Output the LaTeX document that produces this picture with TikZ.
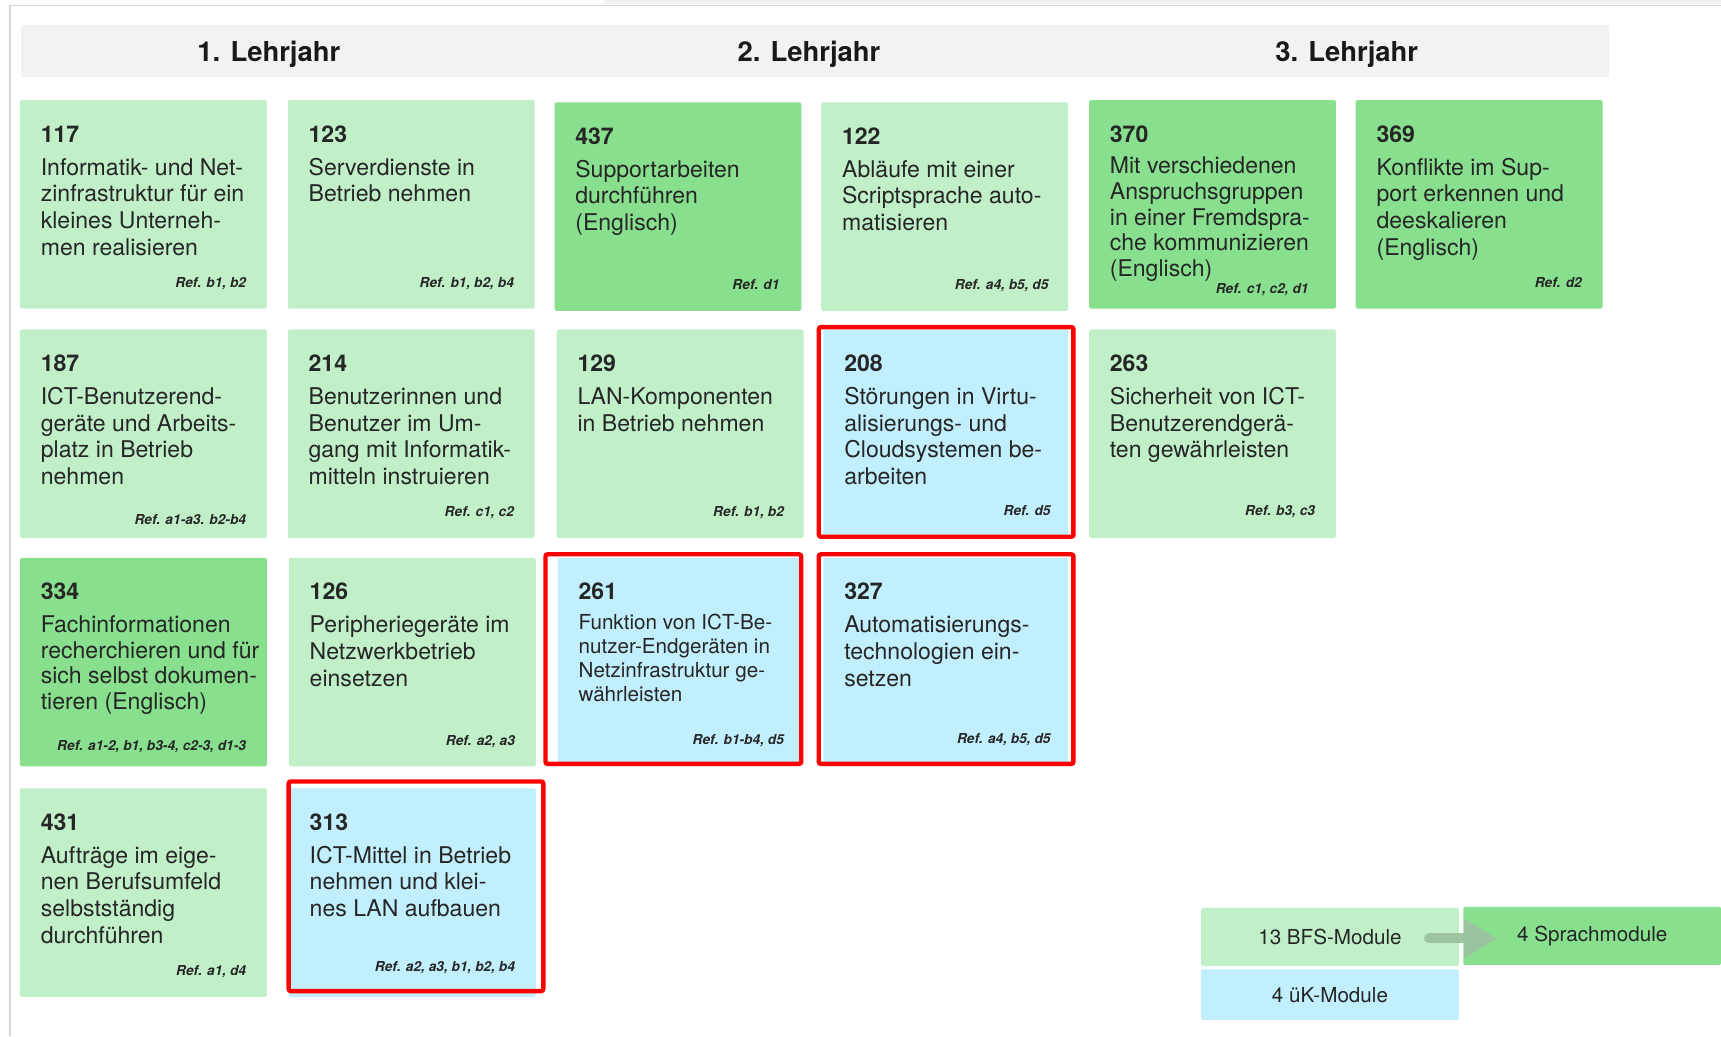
\documentclass[tikz,border=0pt]{standalone}
\usepackage{fontspec}
\setmainfont{TeX Gyre Heros}
\usetikzlibrary{calc,arrows.meta}
\definecolor{lgreen}{HTML}{C1F0C8}
\definecolor{dgreen}{HTML}{88E08F}
\definecolor{lblue}{HTML}{C1EFFD}
\definecolor{hdrgrey}{HTML}{F2F2F2}
\definecolor{txt}{HTML}{262626}
\definecolor{ukred}{HTML}{FF0000}
\definecolor{arrowc}{HTML}{9BC29F}
\definecolor{edgegrey}{HTML}{D6D6D6}
\tikzset{
  modbox/.style={anchor=north west, inner sep=0pt, minimum width=225pt, minimum height=190pt, rounded corners=2pt},
  lg/.style={fill=lgreen}, dg/.style={fill=dgreen}, bl/.style={fill=lblue},
  numtxt/.style={anchor=base west, inner sep=0pt, font=\fontsize{21}{24}\selectfont\bfseries, text=txt},
  bodytxt/.style={anchor=base west, inner sep=0pt, font=\fontsize{21}{24.3}\selectfont, text=txt},
  reftxt/.style={anchor=base east, inner sep=0pt, font=\fontsize{12.5}{14}\selectfont\bfseries\itshape, text=txt},
  ukframe/.style={draw=ukred, line width=4pt, rounded corners=2pt},
  hdrtxt/.style={anchor=base, inner sep=0pt, font=\fontsize{25}{28}\selectfont\bfseries, text=black!90},
  legbox/.style={anchor=north west, inner sep=0pt, rounded corners=2pt, font=\fontsize{18.8}{22}\selectfont, text=txt},
}
\newcommand{\modul}[9]{%
  \node[modbox,#4] (#1) at (#2,#3) {};
  \node[numtxt] (#1n) at ($(#1.north west)+(19,38.5)$) {#5};
  \node[bodytxt,#9] (#1b) at ($(#1.north west)+(19,68.5)$) {\parbox[t]{222pt}{\raggedright #6}};
  \node[reftxt] (#1r) at ($(#1.north east)+(#8)$) {#7};
}
\begin{document}
\begin{tikzpicture}[x=1pt,y=-1pt]
\useasboundingbox (0,0) rectangle (1568,944);
\fill[white] (0,0) rectangle (1568,944);
% page edges
\fill[hdrgrey] (550,0) rectangle (1568,4);
\draw[edgegrey, line width=1.5pt] (9,5) -- (1568,5);
\draw[edgegrey, line width=2pt] (9,5) -- (9,944);
% header
\node[anchor=north west, fill=hdrgrey, minimum width=1447pt, minimum height=47pt, inner sep=0pt] (hdr) at (19,23) {};
\node[hdrtxt] (y1) at (245,56) {1. Lehrjahr};
\node[hdrtxt] (y2) at (737,56) {2. Lehrjahr};
\node[hdrtxt] (y3) at (1227,56) {3. Lehrjahr};
% row 1
\modul{m117}{18}{91}{lg}{117}{Informatik- und Net-\\zinfrastruktur für ein\\kleines Unterneh-\\men realisieren}{Ref. b1, b2}{-19,170.5}{}
\modul{m123}{262}{91}{lg}{123}{Serverdienste in\\Betrieb nehmen}{Ref. b1, b2, b4}{-19,170.5}{}
\modul{m437}{505}{93}{dg}{437}{Supportarbeiten\\durchführen\\(Englisch)}{Ref. d1}{-20,170.5}{}
\modul{m122}{748}{93}{lg}{122}{Abläufe mit einer\\Scriptsprache auto-\\matisieren}{Ref. a4, b5, d5}{-18,170.5}{}
\modul{m370}{992}{91}{dg}{370}{Mit verschiedenen\\Anspruchsgruppen\\in einer Fremdspra-\\che kommunizieren\\(Englisch)}{Ref. c1, c2, d1}{-25,176.5}{font=\fontsize{21}{23.3}\selectfont, yshift=1pt}
\modul{m369}{1235}{91}{dg}{369}{Konflikte im Sup-\\port erkennen und\\deeskalieren\\(Englisch)}{Ref. d2}{-19,170.5}{}
% row 2
\modul{m187}{18}{300}{lg}{187}{ICT-Benutzerend-\\geräte und Arbeits-\\platz in Betrieb\\nehmen}{Ref. a1-a3. b2-b4}{-19,177.5}{}
\modul{m214}{262}{300}{lg}{214}{Benutzerinnen und\\Benutzer im Um-\\gang mit Informatik-\\mitteln instruieren}{Ref. c1, c2}{-19,170.5}{}
\modul{m129}{507}{300}{lg}{129}{LAN-Komponenten\\in Betrieb nehmen}{Ref. b1, b2}{-18,170.5}{}
\modul{m208}{750}{300}{bl,minimum width=223pt,minimum height=189pt}{208}{Störungen in Virtu-\\alisierungs- und\\Cloudsystemen be-\\arbeiten}{Ref. d5}{-16,169.5}{}
\modul{m263}{992}{300}{lg}{263}{Sicherheit von ICT-\\Benutzerendgerä-\\ten gewährleisten}{Ref. b3, c3}{-19,169.5}{}
% row 3
\modul{m334}{18}{508}{dg}{334}{Fachinformationen\\recherchieren und für\\sich selbst dokumen-\\tieren (Englisch)}{Ref. a1-2, b1, b3-4, c2-3, d1-3}{-19,175.5}{font=\fontsize{21}{23.3}\selectfont}
\modul{m126}{263}{508}{lg}{126}{Peripheriegeräte im\\Netzwerkbetrieb\\einsetzen}{Ref. a2, a3}{-19,171.5}{}
\modul{m261}{508}{508}{bl,minimum width=220pt,minimum height=188pt}{261}{Funktion von ICT-Be-\\nutzer-Endgeräten in\\Netzinfrastruktur ge-\\währleisten}{Ref. b1-b4, d5}{-14,170.5}{font=\fontsize{18.8}{22}\selectfont, yshift=3pt}
\modul{m327}{750}{508}{bl,minimum width=223pt,minimum height=188pt}{327}{Automatisierungs-\\technologien ein-\\setzen}{Ref. a4, b5, d5}{-16,169.5}{}
% row 4
\modul{m431}{18}{718}{lg}{431}{Aufträge im eige-\\nen Berufsumfeld\\selbstständig\\durchführen}{Ref. a1, d4}{-19,170.5}{}
\modul{m313}{263}{718}{bl}{313}{ICT-Mittel in Betrieb\\nehmen und klei-\\nes LAN aufbauen}{Ref. a2, a3, b1, b2, b4}{-19,167.5}{}
% red frames (ueberbetriebliche Kurse)
\draw[ukframe] (746,298) rectangle (978,489);
\draw[ukframe] (497,505) rectangle (730,696);
\draw[ukframe] (746,505) rectangle (978,696);
\draw[ukframe] (263,712) rectangle (495,903);
% legend
\node[legbox, lg, minimum width=235pt, minimum height=53pt] (leg1) at (1094,827) {13 BFS-Module};
\node[legbox, dg, minimum width=235pt, minimum height=53pt] (leg2) at (1333,826) {4 Sprachmodule};
\node[legbox, bl, minimum width=235pt, minimum height=46pt] (leg3) at (1094,883) {4 üK-Module};
\coordinate (arS) at (1302,855);
\coordinate (arE) at (1364,855);
\draw[arrowc, opacity=0.95, line width=9pt, line cap=round, -{Triangle[length=30pt,width=34pt]}] (arS) -- (arE);
\end{tikzpicture}
\end{document}
